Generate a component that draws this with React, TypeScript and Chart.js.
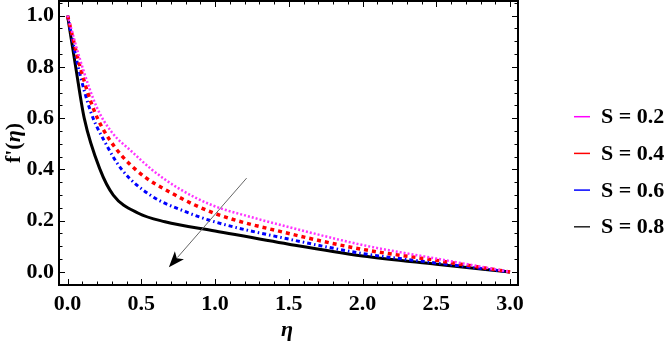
import React, { useEffect, useRef } from 'react';
import { Chart, registerables } from 'chart.js';

Chart.register(...registerables);

// ---- data ----
const SERIES_LABELS = ['S = 0.2', 'S = 0.4', 'S = 0.6', 'S = 0.8'];

const ETA_S02 = [0, 0.1, 0.2, 0.3, 0.435, 0.57, 0.75, 0.977, 1.27, 1.5, 2.0, 2.5, 3.0];
const F_S02 = [1.0, 0.8, 0.64, 0.545, 0.47, 0.4, 0.327, 0.261, 0.21, 0.175, 0.105, 0.052, 0.0];

const ETA_S04 = [0, 0.085, 0.18, 0.28, 0.46, 0.73, 1.0, 1.5, 2.0, 2.5, 3.0];
const F_S04 = [1.0, 0.8, 0.63, 0.52, 0.4, 0.3, 0.228, 0.15, 0.088, 0.045, 0.0];

const ETA_S06 = [0, 0.072, 0.16, 0.25, 0.367, 0.56, 0.8, 1.0, 1.5, 2.0, 2.5, 3.0];
const F_S06 = [1.0, 0.8, 0.62, 0.51, 0.4, 0.3, 0.235, 0.195, 0.128, 0.072, 0.035, 0.0];

const ETA_S08 = [0, 0.055, 0.113, 0.22, 0.31, 0.48, 0.66, 1.0, 1.5, 2.0, 2.5, 3.0];
const F_S08 = [1.0, 0.8, 0.6, 0.4, 0.3, 0.229, 0.196, 0.16, 0.108, 0.062, 0.03, 0.0];

const X_TICKS = [0, 0.5, 1.0, 1.5, 2.0, 2.5, 3.0];
const Y_TICKS = [0, 0.2, 0.4, 0.6, 0.8, 1.0];
const X_RANGE = [-0.058, 3.054];
const Y_RANGE = [-0.051, 1.057];

// arrow annotation (data coordinates: eta, f')
const ARROW_FROM = [1.214, 0.366];
const ARROW_TO = [0.687, 0.018];

const SERIF = "'Liberation Serif', 'Times New Roman', serif";

const pairs = (xs: number[], ys: number[]) => xs.map((x, i) => ({ x, y: ys[i] }));

const frameTicksPlugin = {
  id: 'frameTicks',
  afterDraw(chart: any) {
    const { ctx, chartArea: a, scales } = chart;
    const xs = scales.x;
    const ys = scales.y;
    ctx.save();
    ctx.strokeStyle = '#000';
    ctx.lineWidth = 1;
    const xMinor: number[] = [];
    for (let i = 0; i <= 30; i++) xMinor.push(i / 10);
    const yMinor: number[] = [];
    for (let i = -1; i <= 21; i++) yMinor.push(i / 20);
    ctx.beginPath();
    xMinor.forEach((v) => {
      const px = Math.round(xs.getPixelForValue(v)) + 0.5;
      const major = X_TICKS.some((t) => Math.abs(t - v) < 1e-6);
      const len = major ? 6 : 3.5;
      ctx.moveTo(px, a.bottom);
      ctx.lineTo(px, a.bottom - len);
      ctx.moveTo(px, a.top);
      ctx.lineTo(px, a.top + len);
    });
    yMinor.forEach((v) => {
      const py = ys.getPixelForValue(v);
      if (py < a.top || py > a.bottom) return;
      const y = Math.round(py) + 0.5;
      const major = Y_TICKS.some((t) => Math.abs(t - v) < 1e-6);
      const len = major ? 6 : 3.5;
      ctx.moveTo(a.left, y);
      ctx.lineTo(a.left + len, y);
      ctx.moveTo(a.right, y);
      ctx.lineTo(a.right - len, y);
    });
    ctx.stroke();
    ctx.lineWidth = 2;
    ctx.strokeRect(a.left, a.top, a.right - a.left, a.bottom - a.top);

    // arrow
    const x1 = xs.getPixelForValue(ARROW_FROM[0]);
    const y1 = ys.getPixelForValue(ARROW_FROM[1]);
    const x2 = xs.getPixelForValue(ARROW_TO[0]);
    const y2 = ys.getPixelForValue(ARROW_TO[1]);
    const ang = Math.atan2(y2 - y1, x2 - x1);
    const headLen = 16;
    const headW = 6;
    const bx = x2 - headLen * Math.cos(ang);
    const by = y2 - headLen * Math.sin(ang);
    ctx.strokeStyle = '#666';
    ctx.lineWidth = 1;
    ctx.beginPath();
    ctx.moveTo(x1, y1);
    ctx.lineTo(bx + 3 * Math.cos(ang), by + 3 * Math.sin(ang));
    ctx.stroke();
    ctx.fillStyle = '#000';
    ctx.beginPath();
    ctx.moveTo(x2, y2);
    ctx.lineTo(bx - headW * Math.sin(ang), by + headW * Math.cos(ang));
    ctx.lineTo(bx + 4 * Math.cos(ang), by + 4 * Math.sin(ang));
    ctx.lineTo(bx + headW * Math.sin(ang), by - headW * Math.cos(ang));
    ctx.closePath();
    ctx.fill();

    // axis titles
    ctx.fillStyle = '#000';
    ctx.textBaseline = 'alphabetic';
    ctx.textAlign = 'center';
    ctx.font = `italic bold 22px ${SERIF}`;
    ctx.fillText('η', 287, 336);

    const parts: [string, string][] = [
      ["f'(", `bold 22px ${SERIF}`],
      ['η', `italic bold 22px ${SERIF}`],
      [')', `bold 22px ${SERIF}`],
    ];
    let total = 0;
    parts.forEach(([t, f]) => {
      ctx.font = f;
      total += ctx.measureText(t).width;
    });
    ctx.save();
    ctx.translate(20, 143);
    ctx.rotate(-Math.PI / 2);
    ctx.textAlign = 'left';
    let cx = -total / 2;
    parts.forEach(([t, f]) => {
      ctx.font = f;
      ctx.fillText(t, cx, 0);
      cx += ctx.measureText(t).width;
    });
    ctx.restore();

    // legend
    const rowY0 = 116.7;
    const rowGap = 36.7;
    chart.data.datasets.forEach((ds: any, i: number) => {
      const y = rowY0 + i * rowGap;
      ctx.strokeStyle = ds.legendColor;
      ctx.lineWidth = 1.5;
      ctx.beginPath();
      ctx.moveTo(574, y);
      ctx.lineTo(590, y);
      ctx.stroke();
      ctx.fillStyle = '#000';
      ctx.font = `bold 22px ${SERIF}`;
      ctx.textAlign = 'left';
      ctx.textBaseline = 'middle';
      ctx.fillText(ds.label, 601, y + 1);
    });
    ctx.restore();
  },
};

export default function App() {
  const ref = useRef<HTMLCanvasElement | null>(null);

  useEffect(() => {
    if (!ref.current) return;
    const tickFont = { family: SERIF, size: 22, weight: 'bold' as const };
    const chart = new Chart(ref.current, {
      type: 'line',
      data: {
        datasets: [
          {
            label: SERIES_LABELS[0],
            data: pairs(ETA_S02, F_S02),
            borderColor: '#ff33ff',
            legendColor: '#ff00ff',
            borderWidth: 2.5,
            borderDash: [2, 2],
          } as any,
          {
            label: SERIES_LABELS[1],
            data: pairs(ETA_S04, F_S04),
            borderColor: '#ff0000',
            legendColor: '#ff0000',
            borderWidth: 3.5,
            borderDash: [4, 4],
          } as any,
          {
            label: SERIES_LABELS[2],
            data: pairs(ETA_S06, F_S06),
            borderColor: '#0000ff',
            legendColor: '#0000ff',
            borderWidth: 3,
            borderDash: [4, 3, 1.5, 3],
          } as any,
          {
            label: SERIES_LABELS[3],
            data: pairs(ETA_S08, F_S08),
            borderColor: '#000000',
            legendColor: '#222222',
            borderWidth: 3,
          } as any,
        ],
      },
      options: {
        responsive: false,
        animation: false,
        events: [],
        layout: { padding: { left: 0, right: 151, top: 1, bottom: 0 } },
        elements: {
          point: { radius: 0 },
          line: { cubicInterpolationMode: 'monotone', fill: false },
        },
        plugins: { legend: { display: false }, tooltip: { enabled: false } },
        scales: {
          x: {
            type: 'linear',
            min: X_RANGE[0],
            max: X_RANGE[1],
            grid: { display: false, drawTicks: false },
            border: { display: false },
            ticks: {
              font: tickFont,
              color: '#000',
              padding: 6,
              maxRotation: 0,
              autoSkip: false,
              callback: (v: any) => Number(v).toFixed(1),
            },
            afterBuildTicks: (s: any) => {
              s.ticks = X_TICKS.map((v) => ({ value: v }));
            },
            afterFit: (s: any) => {
              s.height = 61;
              s.paddingLeft = 0;
              s.paddingRight = 0;
              s.paddingTop = 0;
              s.paddingBottom = 0;
            },
          },
          y: {
            type: 'linear',
            min: Y_RANGE[0],
            max: Y_RANGE[1],
            grid: { display: false, drawTicks: false },
            border: { display: false },
            ticks: {
              font: tickFont,
              color: '#000',
              padding: 5,
              autoSkip: false,
              callback: (v: any) => Number(v).toFixed(1),
            },
            afterBuildTicks: (s: any) => {
              s.ticks = Y_TICKS.map((v) => ({ value: v }));
            },
            afterFit: (s: any) => {
              s.width = 59;
              s.paddingLeft = 0;
              s.paddingRight = 0;
              s.paddingTop = 0;
              s.paddingBottom = 0;
            },
          },
        },
      } as any,
      plugins: [frameTicksPlugin],
    });
    return () => chart.destroy();
  }, []);

  return (
    <div style={{ position: 'fixed', left: 0, top: 0, width: 669, height: 346, background: '#fff' }}>
      <canvas ref={ref} width={669} height={346} style={{ width: 669, height: 346, display: 'block' }} />
    </div>
  );
}
